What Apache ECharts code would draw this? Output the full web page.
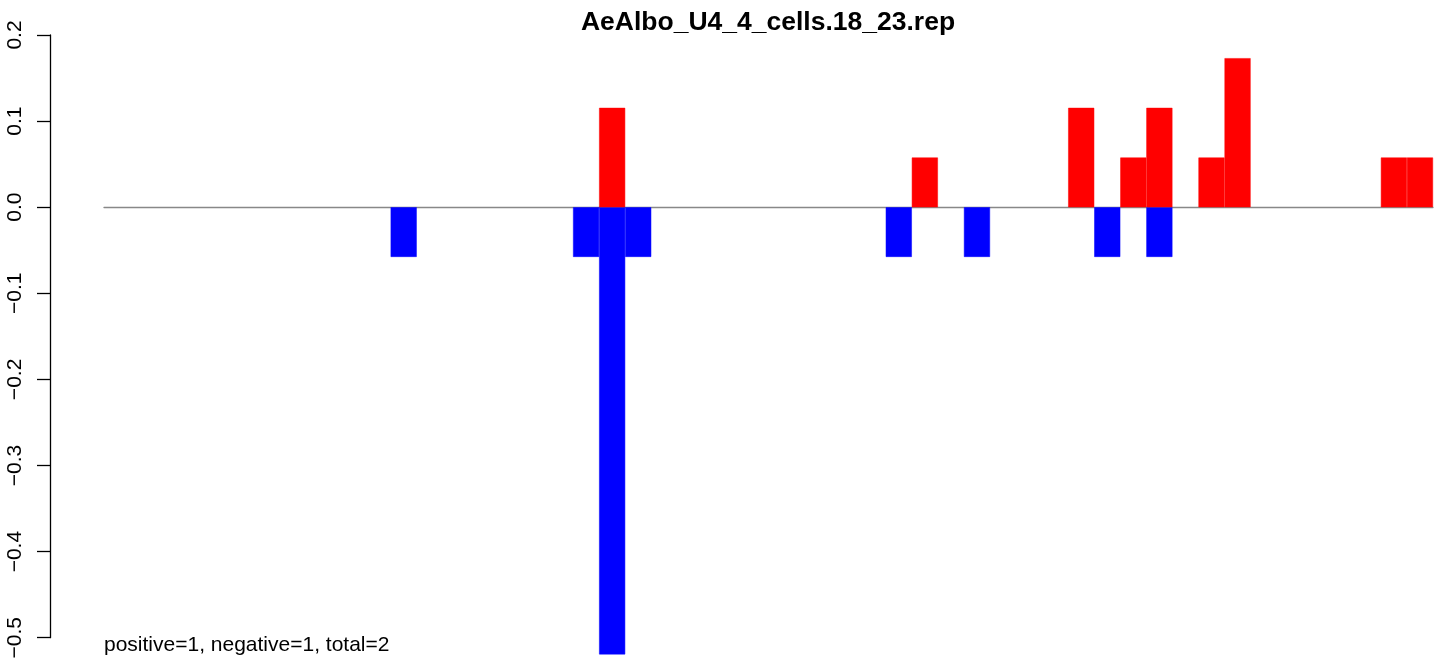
<!DOCTYPE html>
<html>
<head>
<meta charset="utf-8">
<script src="https://cdn.jsdelivr.net/npm/echarts@6/dist/echarts.min.js"></script>
<style>
  html, body { margin: 0; padding: 0; background: #fff; }
  #chart { width: 1441px; height: 666px; }
</style>
</head>
<body>
<div id="chart"></div>
<script>
// 数据：51 个区间，红色为正值，蓝色为负值
const titleText = 'AeAlbo_U4_4_cells.18_23.rep';
const noteText = 'positive=1, negative=1, total=2';
const binCount = 51;
const redBins = [19, 31, 37, 39, 40, 42, 43, 49, 50];
const redValues = [0.1154, 0.0577, 0.1154, 0.0577, 0.1154, 0.0577, 0.1731, 0.0577, 0.0577];
const blueBins = [11, 18, 19, 20, 30, 33, 38, 40];
const blueValues = [-0.0577, -0.0577, -0.5193, -0.0577, -0.0577, -0.0577, -0.0577, -0.0577];
const yTicks = [-0.5, -0.4, -0.3, -0.2, -0.1, 0.0, 0.1, 0.2];

const categories = [];
for (let i = 0; i < binCount; i++) categories.push(String(i));

function fill(bins, values) {
    const arr = new Array(binCount).fill('-');
    bins.forEach((b, i) => { arr[b] = values[i]; });
    return arr;
}

const font = 'Liberation Sans, Arial, sans-serif';
const myChart = echarts.init(document.getElementById('chart'));
myChart.setOption({
    animation: false,
    title: [
        {
            text: titleText, left: 768, top: 9, textAlign: 'center', padding: 0,
            textStyle: { fontFamily: font, fontSize: 26.5, fontWeight: 'bold', color: '#000' }
        },
        {
            text: noteText, left: 104, top: 635, padding: 0,
            textStyle: { fontFamily: font, fontSize: 21, fontWeight: 'normal', color: '#000' }
        }
    ],
    grid: [
        { left: 104, right: 8, top: 35, height: 620 },
        { left: 50, top: 35, height: 602.7, width: 1 }
    ],
    xAxis: [
        {
            type: 'category', gridIndex: 0, data: categories,
            axisLine: { onZero: true, lineStyle: { color: '#888', width: 1.3 } },
            axisTick: { show: false }, axisLabel: { show: false }, splitLine: { show: false }
        },
        { type: 'value', gridIndex: 1, show: false }
    ],
    yAxis: [
        { type: 'value', gridIndex: 0, min: -0.52, max: 0.2, show: false, splitLine: { show: false } },
        {
            type: 'value', gridIndex: 1, min: yTicks[0], max: yTicks[yTicks.length - 1], interval: 0.1,
            axisLine: { show: true, lineStyle: { color: '#000', width: 1.3 } },
            axisTick: { show: true, length: 13, lineStyle: { color: '#000', width: 1.3 } },
            splitLine: { show: false },
            axisLabel: {
                rotate: 90, margin: 24, fontFamily: font, fontSize: 21, color: '#000',
                formatter: v => (v < -1e-9 ? '\u2212' : '') + Math.abs(v).toFixed(1)
            }
        }
    ],
    series: [
        {
            type: 'bar', xAxisIndex: 0, yAxisIndex: 0, data: fill(blueBins, blueValues),
            barWidth: '100%', barGap: '-100%',
            itemStyle: { color: '#0000ff', borderColor: '#0000ff', borderWidth: 0.5 }
        },
        {
            type: 'bar', xAxisIndex: 0, yAxisIndex: 0, data: fill(redBins, redValues),
            barWidth: '100%', barGap: '-100%',
            itemStyle: { color: '#ff0000', borderColor: '#ff0000', borderWidth: 0.5 }
        }
    ]
});
</script>
</body>
</html>
